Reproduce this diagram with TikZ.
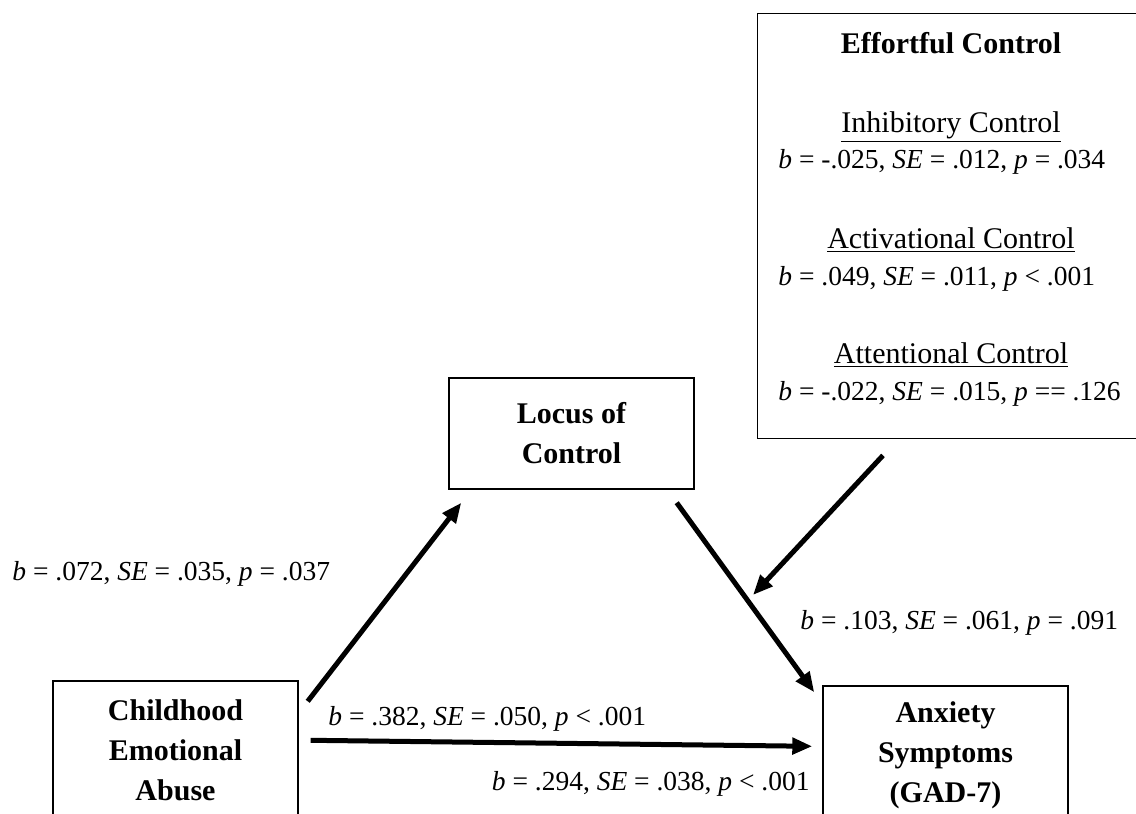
\documentclass[tikz,border=0pt]{standalone}
\usepackage{fontspec}
\setmainfont{Liberation Serif}
\usetikzlibrary{arrows.meta}
\begin{document}
\begin{tikzpicture}[x=0.5pt, y=-0.5pt,
  box/.style={shape=rectangle, draw=black, line width=0.7pt, align=center, font=\fontsize{15}{20}\selectfont\bfseries},
  head/.style={font=\fontsize{15}{20}\selectfont, anchor=base, inner sep=0pt},
  stat/.style={font=\fontsize{13.75}{18}\selectfont, inner sep=0pt},
  arr/.style={-{Triangle[length=10pt,width=8pt]}, line width=2.5pt, draw=black}]
\useasboundingbox (0,0) rectangle (1136,814);
\clip (0,0) rectangle (1136,814);
\node[box, minimum width=122.5pt, minimum height=69pt] (cea) at (175.5,750) {Childhood\\Emotional\\Abuse};
\node[box, minimum width=122.5pt, minimum height=55.5pt] (loc) at (571.5,433.5) {Locus of\\Control};
\node[box, minimum width=122.5pt, minimum height=69pt] (anx) at (945.5,755) {Anxiety\\Symptoms\\(GAD-7)};
\node[box, minimum width=200pt, minimum height=212.5pt, anchor=north west] (ec) at (757,12.5) {};
\node[head, font=\fontsize{15}{20}\selectfont\bfseries] (ectitle) at (951,53) {Effortful Control};
\node[head] (ic) at (951,132) {\underline{Inhibitory Control}};
\node[stat, anchor=base west] (icstat) at (778,168) {\textit{b} = -.025, \textit{SE} = .012, \textit{p} = .034};
\node[head] (ac) at (951,248) {\underline{Activational Control}};
\node[stat, anchor=base west] (acstat) at (778,285) {\textit{b} = .049, \textit{SE} = .011, \textit{p} < .001};
\node[head] (atc) at (951,363) {\underline{Attentional Control}};
\node[stat, anchor=base west] (atcstat) at (778,400) {\textit{b} = -.022, \textit{SE} = .015, \textit{p} == .126};
\node[stat, anchor=base west] (apath) at (12,580) {\textit{b} = .072, \textit{SE} = .035, \textit{p} = .037};
\node[stat, anchor=base west] (bpath) at (800,629) {\textit{b} = .103, \textit{SE} = .061, \textit{p} = .091};
\node[stat, anchor=base west] (cpath) at (328,725) {\textit{b} = .382, \textit{SE} = .050, \textit{p} < .001};
\node[stat, anchor=base east] (cppath) at (810,790) {\textit{b} = .294, \textit{SE} = .038, \textit{p} < .001};
\coordinate (mod) at (753,595);
\draw [arr] ([shift={(9,21)}]cea.north east) -- ([shift={(13,13)}]loc.south west);
\draw [arr] ([shift={(-18,13)}]loc.south east) -- ([shift={(-8,7)}]anx.north west);
\draw [arr] ([shift={(12,60)}]cea.north east) -- ([shift={(-10,61)}]anx.north west);
\draw [arr] ([shift={(126,16.5)}]ec.south west) -- (mod);
\end{tikzpicture}
\end{document}
